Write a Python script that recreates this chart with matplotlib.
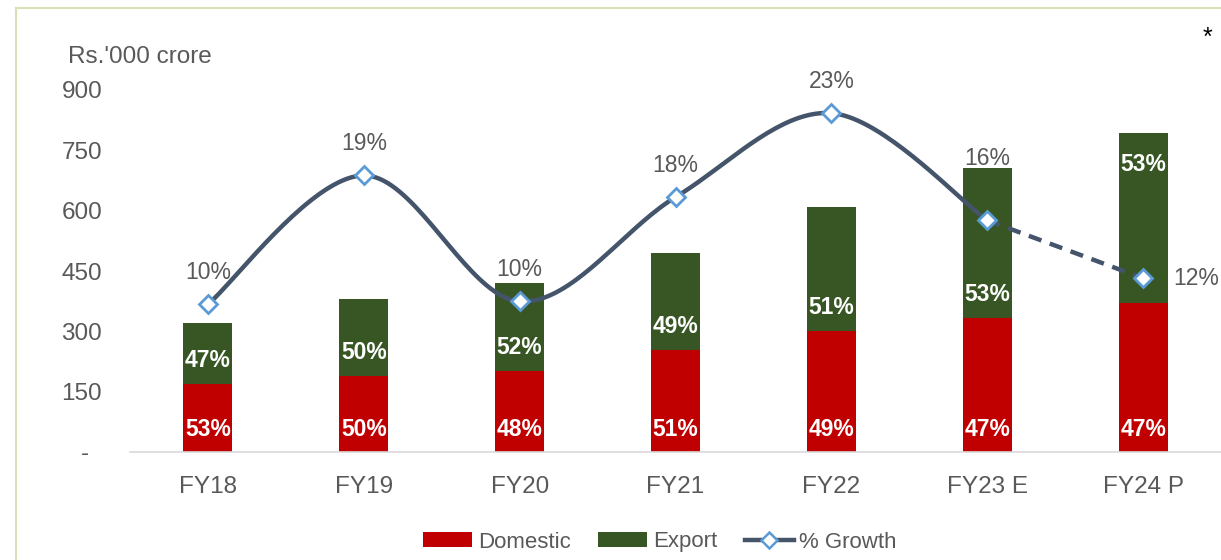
import numpy as np
import matplotlib
matplotlib.use("Agg")
import matplotlib.pyplot as plt
from matplotlib.lines import Line2D
from matplotlib.patches import Patch

# ---------------- data ----------------
categories = ["FY18", "FY19", "FY20", "FY21", "FY22", "FY23 E", "FY24 P"]
domestic = [169, 189, 201, 254, 301, 333, 370]
export = [152, 191, 219, 241, 308, 373, 423]
domestic_share = ["53%", "50%", "48%", "51%", "49%", "47%", "47%"]
export_share = ["47%", "50%", "52%", "49%", "51%", "53%", "53%"]
growth = [10.2, 19.1, 10.4, 17.6, 23.4, 16.0, 12.0]
growth_labels = ["10%", "19%", "10%", "18%", "23%", "16%", "12%"]
y_ticks = [0, 150, 300, 450, 600, 750, 900]
y_ticklabels = ["-  ", "150", "300", "450", "600", "750", "900"]

# ---------------- style ----------------
plt.rcParams['font.family'] = ['Liberation Sans', 'DejaVu Sans']
RED = "#C00000"
GREEN = "#375623"
NAVY = "#44546A"
MBLUE = "#5B9BD5"
GRAY = "#595959"

fig = plt.figure(figsize=(12.21, 5.60), dpi=100)
ax = fig.add_axes([130 / 1221, 108 / 560, 1091 / 1221, 362 / 560])
ax2 = ax.twinx()

x = np.arange(len(categories))
bw = 0.315
ax.bar(x, domestic, width=bw, color=RED, zorder=2)
ax.bar(x, export, width=bw, bottom=domestic, color=GREEN, zorder=2)

ax.set_xlim(-0.5, len(categories) - 0.5)
ax.set_ylim(0, 900)
ax.set_yticks(y_ticks)
ax.set_yticklabels(y_ticklabels)
ax.set_xticks(x)
ax.set_xticklabels(categories)
ax.tick_params(axis='y', length=0, pad=20, labelsize=17.5, labelcolor=GRAY)
ax.tick_params(axis='x', length=0, pad=17, labelsize=17.5, labelcolor=GRAY)
for s in ["top", "right", "left"]:
    ax.spines[s].set_visible(False)
ax.spines["bottom"].set_color("#D9D9D9")
ax.spines["bottom"].set_linewidth(1.2)

# data labels in bars
for i in range(len(categories)):
    ax.annotate(domestic_share[i], (x[i], 0), xytext=(0, 16), textcoords="offset points",
                ha="center", va="center", color="white", fontsize=16.5, fontweight="bold", zorder=3)
    if i == len(categories) - 1:
        ax.annotate(export_share[i], (x[i], domestic[i] + export[i]), xytext=(0, -22.5),
                    textcoords="offset points", ha="center", va="center", color="white",
                    fontsize=16.5, fontweight="bold", zorder=3)
    else:
        ax.annotate(export_share[i], (x[i], domestic[i]), xytext=(0, 17),
                    textcoords="offset points", ha="center", va="center", color="white",
                    fontsize=16.5, fontweight="bold", zorder=3)

# growth line (secondary, hidden axis)
ax2.set_ylim(0, 25)
ax2.axis("off")


def smooth(xs, ys, n=40):
    P = np.column_stack([xs, ys]).astype(float)
    out = []
    for i in range(len(P) - 1):
        p0 = P[i - 1] if i > 0 else P[i]
        p1, p2 = P[i], P[i + 1]
        p3 = P[i + 2] if i + 2 < len(P) else P[i + 1]
        c1 = p1 + (p2 - p0) / 6
        c2 = p2 - (p3 - p1) / 6
        t = np.linspace(0, 1, n)[:, None]
        seg = ((1 - t) ** 3) * p1 + 3 * ((1 - t) ** 2) * t * c1 + 3 * (1 - t) * t ** 2 * c2 + t ** 3 * p2
        out.append(seg if i == 0 else seg[1:])
    s = np.vstack(out)
    return s[:, 0], s[:, 1]


sx, sy = smooth(x[:6], growth[:6])
ax2.plot(sx, sy, color=NAVY, lw=3.2, solid_capstyle="round", zorder=4)
ax2.plot(x[5:], growth[5:], color=NAVY, lw=3.2, linestyle=(0, (3, 2)), zorder=4)
ax2.plot(x, growth, linestyle="none", marker="D", markersize=9, markerfacecolor="white",
         markeredgecolor=MBLUE, markeredgewidth=2.0, zorder=5)

for i in range(len(categories)):
    if i == 5:
        off = (0, 44.5)
    elif i == 6:
        off = (38, 0)
    else:
        off = (0, 23)
    ax2.annotate(growth_labels[i], (x[i], growth[i]), xytext=off, textcoords="offset points",
                 ha="center", va="center", color=GRAY, fontsize=16.5, zorder=6)

# axis title and asterisk
fig.text(68 / 1221, 1 - 57 / 560, "Rs.'000 crore", ha="left", va="center", fontsize=17.5, color=GRAY)
fig.text(1207 / 1221, 1 - 38 / 560, "*", ha="center", va="center", fontsize=18, color="black")

# frame lines
fig.add_artist(Line2D([16 / 1221, 1.0], [1 - 8 / 560, 1 - 8 / 560], transform=fig.transFigure,
                      color="#D6E2B5", lw=1.5))
fig.add_artist(Line2D([16 / 1221, 16 / 1221], [0, 1 - 8 / 560], transform=fig.transFigure,
                      color="#D6E2B5", lw=1.5))

# legend
handles = [Patch(facecolor=RED), Patch(facecolor=GREEN),
           Line2D([0], [0], color=NAVY, lw=3.2, marker="D", markersize=8.5, markerfacecolor="white",
                  markeredgecolor=MBLUE, markeredgewidth=1.8)]
fig.legend(handles, ["Domestic", "Export", "% Growth"], loc="center", ncol=3,
           bbox_to_anchor=(660 / 1221, 18 / 560), frameon=False, fontsize=16,
           labelcolor=GRAY, handlelength=2.2, handleheight=0.68, handletextpad=0.25,
           columnspacing=1.25)

fig.savefig("out.png", dpi=100)
